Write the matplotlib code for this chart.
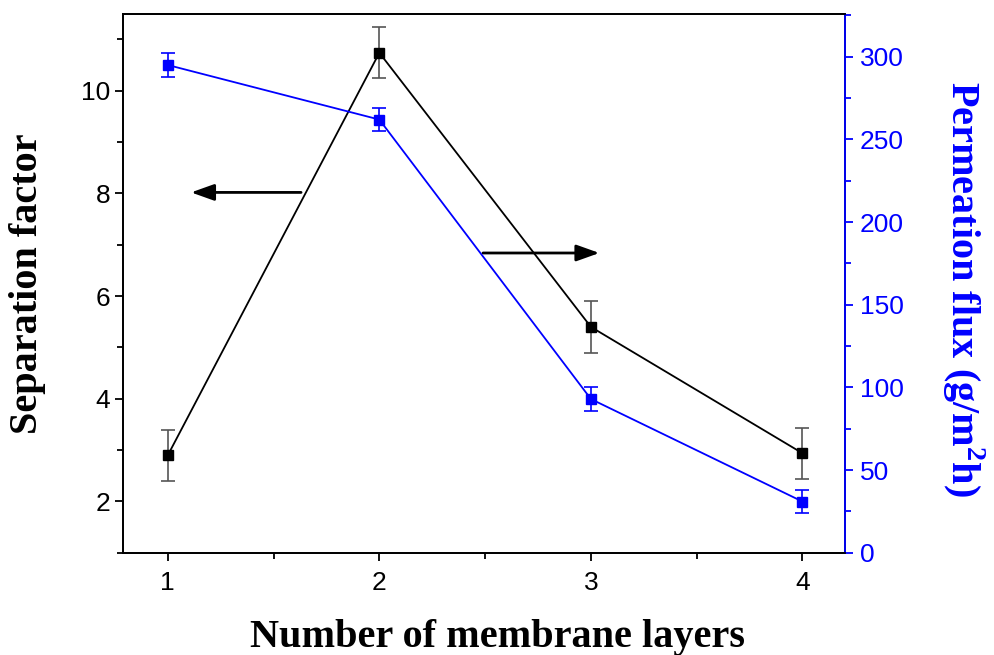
import matplotlib
matplotlib.use("Agg")
import matplotlib.pyplot as plt
from matplotlib.ticker import MultipleLocator

layers = [1, 2, 3, 4]
sep_factor = [2.9, 10.74, 5.40, 2.94]
sep_err = [0.5, 0.5, 0.5, 0.5]
flux = [295, 262, 93, 31]
flux_err = [7, 7, 7, 7]

BLUE = "#0000FF"
SANS = "Liberation Sans"
SERIF = "Liberation Serif"

plt.rcParams.update({
    "font.family": SANS,
    "xtick.labelsize": 19,
    "ytick.labelsize": 19,
    "axes.linewidth": 1.3,
    "xtick.major.size": 6,
    "ytick.major.size": 6,
    "xtick.minor.size": 4,
    "ytick.minor.size": 4,
    "xtick.major.width": 1.3,
    "ytick.major.width": 1.3,
    "xtick.minor.width": 1.3,
    "ytick.minor.width": 1.3,
    "mathtext.fontset": "custom",
    "mathtext.bf": "Liberation Serif:bold",
    "mathtext.rm": "Liberation Serif",
})

fig = plt.figure(figsize=(9.95, 6.55), dpi=100)
ax = fig.add_axes([0.124, 0.156, 0.725, 0.823])
ax2 = ax.twinx()

ax.errorbar(layers, sep_factor, yerr=sep_err, color="black", marker="s",
            markersize=7, linewidth=1.3, ecolor="#555555", elinewidth=1.2,
            capsize=5, capthick=1.2, zorder=3)
ax2.errorbar(layers, flux, yerr=flux_err, color=BLUE, marker="s",
             markersize=7, linewidth=1.3, ecolor=BLUE, elinewidth=1.2,
             capsize=5, capthick=1.2, zorder=3)

ax.set_xlim(0.79, 4.2)
ax.set_ylim(1.0, 11.5)
ax2.set_ylim(0, 326)

ax.xaxis.set_major_locator(MultipleLocator(1))
ax.xaxis.set_minor_locator(MultipleLocator(0.5))
ax.yaxis.set_major_locator(MultipleLocator(2))
ax.yaxis.set_minor_locator(MultipleLocator(1))
ax2.yaxis.set_major_locator(MultipleLocator(50))
ax2.yaxis.set_minor_locator(MultipleLocator(25))

ax.tick_params(axis="both", which="both", direction="out")
ax.tick_params(axis="x", pad=7)
ax2.tick_params(axis="y", which="both", direction="out", colors=BLUE, pad=5)
ax2.spines["right"].set_color(BLUE)

ax.set_xlabel("Number of membrane layers", fontfamily=SERIF, fontweight="bold",
              fontsize=29)
ax.set_ylabel("Separation factor", fontfamily=SERIF, fontweight="bold",
              fontsize=29)
ax2.set_ylabel(r"Permeation flux (g/m$^{\mathbf{2}}$h)", fontfamily=SERIF,
               fontweight="bold", fontsize=29, color=BLUE, rotation=-90,
               va="center")
ax.xaxis.set_label_coords(0.518, -0.122)
ax.yaxis.set_label_coords(-0.107, 0.5)
ax2.yaxis.set_label_coords(1.165, 0.49)

# direction arrows pointing at each axis
arrow = dict(arrowstyle="-|>,head_length=0.7,head_width=0.25", color="black",
             lw=2.0, mutation_scale=20, shrinkA=0, shrinkB=0)
ax.annotate("", xy=(1.11, 8.02), xytext=(1.63, 8.02), arrowprops=arrow)
ax.annotate("", xy=(3.04, 6.84), xytext=(2.49, 6.84), arrowprops=arrow)

fig.savefig("out.png", dpi=100)
